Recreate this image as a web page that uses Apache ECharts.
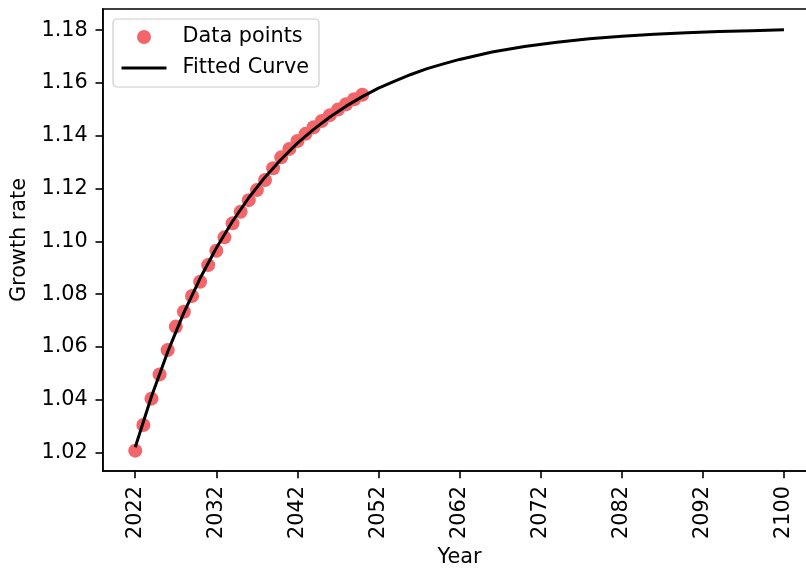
<!DOCTYPE html>
<html>
<head>
<meta charset="utf-8">
<script src="https://cdn.jsdelivr.net/npm/echarts@6/dist/echarts.min.js"></script>
<style>
  html, body { margin: 0; padding: 0; background: #ffffff; }
  #chart { width: 806px; height: 569px; }
</style>
</head>
<body>
<div id="chart"></div>
<script>
// Horizontal positions are step indices; tick labels name the years.
const tickSteps = [0, 10, 20, 30, 40, 50, 60, 70, 80];
const tickLabels = ['2022', '2032', '2042', '2052', '2062', '2072', '2082', '2092', '2100'];
const yTicks = [1.02, 1.04, 1.06, 1.08, 1.10, 1.12, 1.14, 1.16, 1.18];

// Observed growth rates
const pointSteps = [0, 1, 2, 3, 4, 5, 6, 7, 8, 9, 10, 11, 12, 13, 14,
                    15, 16, 17, 18, 19, 20, 21, 22, 23, 24, 25, 26, 27, 28];
const pointValues = [1.0207, 1.0304, 1.0404, 1.0496, 1.0588, 1.0677, 1.0733, 1.0793,
                     1.0847, 1.0910, 1.0964, 1.1015, 1.1068, 1.1112, 1.1156, 1.1194,
                     1.1232, 1.1277, 1.1318, 1.1350, 1.1380, 1.1407, 1.1432, 1.1456,
                     1.1478, 1.1499, 1.1519, 1.1538, 1.1555];

// Fitted saturation curve, sampled
const curveSteps = [0, 2, 4, 6, 8, 10, 12, 14, 16, 18, 20, 22, 24, 26, 28, 30, 32, 34,
                    36, 38, 40, 44, 48, 52, 56, 60, 64, 68, 72, 76, 80];
const curveValues = [1.0220, 1.0412, 1.0581, 1.0730, 1.0860, 1.0975, 1.1076, 1.1165,
                     1.1243, 1.1311, 1.1372, 1.1424, 1.1471, 1.1512, 1.1548, 1.1580,
                     1.1607, 1.1632, 1.1654, 1.1672, 1.1689, 1.1717, 1.1738, 1.1754,
                     1.1767, 1.1777, 1.1784, 1.1790, 1.1795, 1.1798, 1.1801];

const FONT = 'DejaVu Sans';
const FS = 20.8;
const INK = '#000000';

const chart = echarts.init(document.getElementById('chart'), null, { renderer: 'canvas' });

chart.setOption({
  animation: false,
  backgroundColor: '#ffffff',
  textStyle: { fontFamily: FONT, color: INK },
  grid: {
    left: 102.8, top: 9, right: -10.4, bottom: 98,
    containLabel: false,
    outerBoundsMode: 'none',
    show: true, borderColor: INK, borderWidth: 1.6, backgroundColor: 'transparent'
  },
  legend: {
    orient: 'vertical',
    left: 113, top: 19,
    padding: [7.5, 10, 8.5, 7],
    itemWidth: 45, itemHeight: 14, itemGap: 10,
    backgroundColor: 'rgba(255,255,255,0.8)',
    borderColor: '#cccccc', borderWidth: 1.2, borderRadius: 4,
    textStyle: { fontFamily: FONT, fontSize: FS, color: INK, lineHeight: 21, padding: [0, 0, 0, 11] },
    data: [
      { name: 'Data points', icon: 'circle' },
      {
        name: 'Fitted Curve',
        itemStyle: { opacity: 0, color: 'rgba(0,0,0,0)', borderWidth: 0 },
        lineStyle: { color: INK, width: 3 }
      }
    ]
  },
  xAxis: {
    type: 'value',
    min: -4, max: 84,
    name: 'Year', nameLocation: 'middle', nameGap: 71,
    nameTextStyle: { fontFamily: FONT, fontSize: FS, color: INK },
    axisLine: { show: true, onZero: false, lineStyle: { color: INK, width: 1.6 } },
    axisTick: { show: true, customValues: tickSteps, length: 7.3, lineStyle: { color: INK, width: 1.6 } },
    axisLabel: {
      customValues: tickSteps, rotate: 90, margin: 15,
      fontFamily: FONT, fontSize: FS, color: INK,
      formatter: v => tickLabels[tickSteps.indexOf(Math.round(v))] || ''
    },
    splitLine: { show: false }
  },
  yAxis: {
    type: 'value',
    min: 1.0130, max: 1.1880,
    name: 'Growth rate', nameLocation: 'middle', nameGap: 70, nameRotate: 90,
    nameTextStyle: { fontFamily: FONT, fontSize: FS, color: INK },
    axisLine: { show: true, onZero: false, lineStyle: { color: INK, width: 1.6 } },
    axisTick: { show: true, customValues: yTicks, length: 7.3, lineStyle: { color: INK, width: 1.6 } },
    axisLabel: {
      customValues: yTicks, margin: 15,
      fontFamily: FONT, fontSize: FS, color: INK,
      formatter: v => v.toFixed(2)
    },
    splitLine: { show: false }
  },
  series: [
    {
      name: 'Data points',
      type: 'scatter',
      symbol: 'circle',
      symbolSize: 14,
      itemStyle: { color: '#f4656a', opacity: 1 },
      z: 2,
      data: pointSteps.map((s, i) => [s, pointValues[i]])
    },
    {
      name: 'Fitted Curve',
      type: 'line',
      symbol: 'none',
      smooth: false,
      lineStyle: { color: INK, width: 3 },
      itemStyle: { color: INK },
      z: 3,
      data: curveSteps.map((s, i) => [s, curveValues[i]])
    }
  ]
});
</script>
</body>
</html>
